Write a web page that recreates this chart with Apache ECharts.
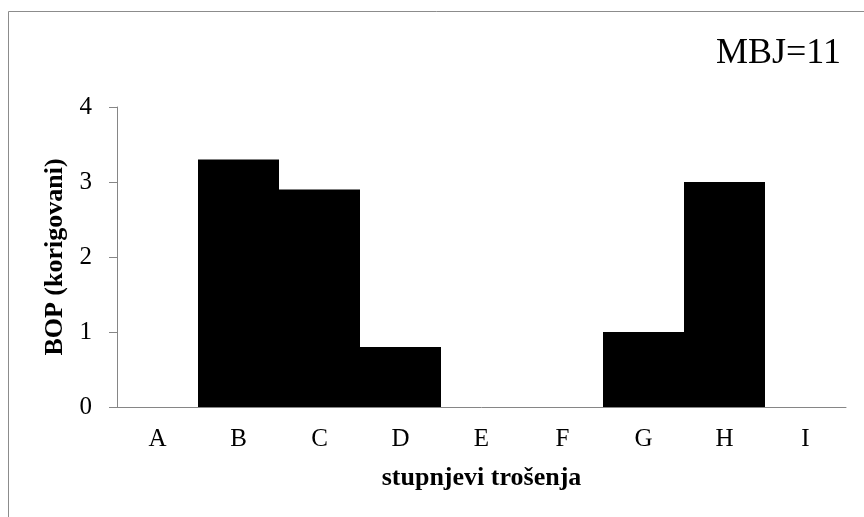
<!DOCTYPE html>
<html>
<head>
<meta charset="utf-8">
<title>BOP (korigovani)</title>
<script src="https://cdn.jsdelivr.net/npm/echarts@6/dist/echarts.min.js"></script>
<style>
  html, body { margin: 0; padding: 0; background: #fff; }
  #chart { width: 864px; height: 517px; }
</style>
</head>
<body>
<div id="chart"></div>
<script>
// podaci
const categories = ['A', 'B', 'C', 'D', 'E', 'F', 'G', 'H', 'I'];
const bopValues = [0, 3.3, 2.9, 0.8, 0, 0, 1.0, 3.0, 0];
const yTicks = [0, 1, 2, 3, 4];
const chartLabel = 'MBJ=11';
const xName = 'stupnjevi trošenja';
const yName = 'BOP (korigovani)';

const font = '"Liberation Serif", "Times New Roman", serif';
const axisGray = '#868686';

const myChart = echarts.init(document.getElementById('chart'));

const option = {
  animation: false,
  backgroundColor: '#fff',
  graphic: [
    {
      // okvir grafikona (vidljiv samo lijevo i gore)
      type: 'rect',
      shape: { x: 8.5, y: 11.5, width: 1000, height: 1000 },
      style: { fill: 'none', stroke: '#8c8c8c', lineWidth: 1 },
      silent: true
    }
  ],
  title: {
    text: chartLabel,
    right: 23,
    top: 36,
    padding: 0,
    textStyle: { fontFamily: font, fontWeight: 'normal', fontSize: 36, color: '#000' }
  },
  // širina mreže 729 = 9 x 81, da stupci padnu na cijele piksele
  grid: { left: 117, right: 18, top: 107, bottom: 110 },
  xAxis: {
    type: 'category',
    data: categories,
    name: xName,
    nameLocation: 'middle',
    nameGap: 58,
    nameTextStyle: { fontFamily: font, fontWeight: 'bold', fontSize: 26, color: '#000' },
    axisLine: { lineStyle: { color: axisGray, width: 1 } },
    axisTick: { show: false },
    axisLabel: { fontFamily: font, fontSize: 25, color: '#000', margin: 20 },
    splitLine: { show: false }
  },
  yAxis: {
    type: 'value',
    min: yTicks[0],
    max: yTicks[yTicks.length - 1],
    interval: 1,
    name: yName,
    nameLocation: 'middle',
    nameGap: 39,
    nameTextStyle: { fontFamily: font, fontWeight: 'bold', fontSize: 26, color: '#000' },
    axisLine: { show: true, lineStyle: { color: axisGray, width: 1 } },
    axisTick: { show: true, length: 8, inside: false, lineStyle: { color: axisGray } },
    axisLabel: { fontFamily: font, fontSize: 25, color: '#000', margin: 25 },
    splitLine: { show: false }
  },
  series: [
    {
      type: 'bar',
      data: bopValues,
      barWidth: '100%',
      barCategoryGap: 0,
      itemStyle: { color: '#000' }
    }
  ]
};

myChart.setOption(option);

window.addEventListener('resize', () => {
  myChart.resize();
});
</script>
</body>
</html>
